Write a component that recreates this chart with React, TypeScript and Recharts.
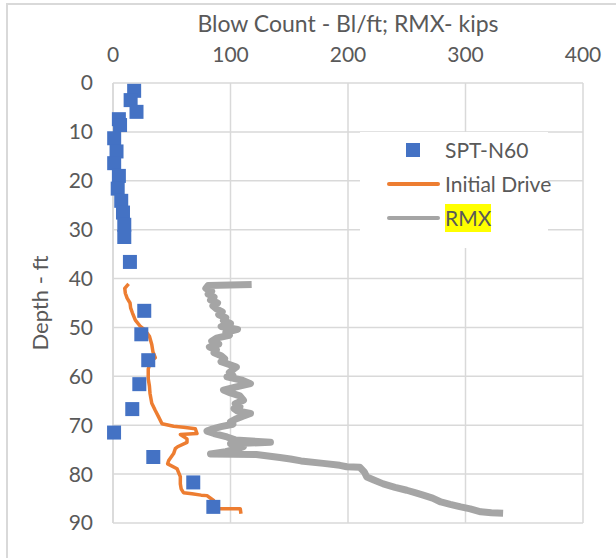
import React from 'react';
import { ScatterChart, Scatter, XAxis, YAxis, CartesianGrid } from 'recharts';

// SPT-N60 blow counts (bl/ft) vs depth (ft)
const sptBlows = [18, 15, 20, 5, 6, 1, 3, 1, 5, 4, 7, 8.5, 9.6, 9.6, 14.4, 26.6, 24.1, 30, 22.4, 16.4, 0.9, 34.3, 68.3, 85.4];
const sptDepth = [1.6, 3.5, 5.9, 7.4, 8.6, 11.3, 14, 16.4, 19, 21.6, 24.1, 26.5, 29, 31.5, 36.6, 46.6, 51.4, 56.7, 61.6, 66.7, 71.5, 76.5, 81.7, 86.7];

// Initial drive blow count (bl/ft) vs depth
const driveBlows = [13.3, 10, 10.5, 12, 14.5, 15, 16.5, 19, 23, 27, 31, 33, 34, 36, 32, 30, 30, 31, 31.5, 33, 36, 38.8, 41.7, 51.6, 60, 70, 71.5, 57.3, 63, 63, 55, 53, 51.6, 47.4, 46.5, 54.5, 57.3, 57.3, 58, 60, 67.2, 75, 80, 85.6, 88.5, 100, 108.3, 108.9];
const driveDepth = [41.1, 42, 43, 44, 45, 46, 47, 48.5, 49.7, 50.5, 51.8, 53.5, 55, 56.2, 57, 58.5, 60.5, 62, 63.5, 65.5, 67, 68.3, 69.7, 70.2, 70.4, 70.7, 71.7, 71.9, 72.8, 73.5, 74.4, 74.8, 75.8, 77.2, 77.9, 78.9, 80.5, 82, 83, 83.8, 84, 84.3, 84.4, 85.4, 87.1, 87.1, 87.1, 88.1];

// RMX (kips) vs depth
const rmxKips = [118, 81, 79, 84, 81, 86, 83, 89, 85, 88, 93, 90, 96, 94, 100, 92, 106, 96, 99, 88, 84, 90, 82, 88, 86, 92, 95, 92, 105, 99, 102, 97, 110, 117, 104, 94, 100, 108, 111, 104, 108, 103, 106, 117, 110, 104, 100, 102, 92, 84, 80, 86, 97, 104, 134, 100, 111, 106, 96, 83, 122, 142, 151, 160, 179, 193, 199, 210, 214, 216, 222, 230, 240, 250, 257, 264, 272, 279, 287, 296, 304, 313, 322, 332];
const rmxDepth = [41.2, 41.4, 42, 42.6, 43.2, 43.8, 44.4, 45, 45.6, 46.2, 46.8, 47.4, 48, 48.6, 49.2, 49.8, 50.4, 51, 51.6, 52.2, 52.8, 53.4, 54, 54.6, 55.2, 55.8, 56.4, 57, 58.1, 59.2, 59.8, 60.1, 60.8, 61.5, 62.2, 62.8, 63.4, 64, 64.9, 65.6, 66.2, 66.6, 67.1, 67.6, 68.2, 68.8, 69.3, 69.8, 70.3, 70.8, 71.2, 71.7, 72.4, 73, 73.5, 73.8, 74.4, 74.8, 75.4, 75.9, 76, 76.6, 76.9, 77.3, 77.8, 78.2, 78.5, 78.6, 79.6, 80.6, 81.2, 82, 82.7, 83.3, 83.8, 84.3, 84.9, 85.7, 86.2, 86.7, 87.1, 87.7, 87.9, 88];

const xTicks = [0, 100, 200, 300, 400];
const yTicks = [0, 10, 20, 30, 40, 50, 60, 70, 80, 90];

const seriesNames = ['SPT-N60', 'Initial Drive', 'RMX'];
const COLORS = ['#4472C4', '#ED7D31', '#A5A5A5'];

const toPoints = (xs: number[], ys: number[]) => xs.map((x, i) => ({ x, y: ys[i] }));

const sptData = toPoints(sptBlows, sptDepth);
const driveData = toPoints(driveBlows, driveDepth);
const rmxData = toPoints(rmxKips, rmxDepth);

const FONT = 'Lato, "Liberation Sans", sans-serif';
const TEXT = '#595959';

const Square = (p: any) => <rect x={p.cx - 7} y={p.cy - 7} width={14} height={14} fill={COLORS[0]} />;
const NoDot = () => <g />;

// legend drawn as an overlay so it doesn't take space from the plot
const LegendBox = () => (
  <div style={{ position: 'absolute', left: 360, top: 132, width: 188, height: 116, background: '#fff', fontFamily: FONT, fontSize: 21, color: TEXT }}>
    {seriesNames.map((name, i) => (
      <div key={name} style={{ position: 'absolute', top: 3 + i * 34, left: 0, height: 30, display: 'flex', alignItems: 'center', whiteSpace: 'nowrap' }}>
        <div style={{ width: 85, height: 30, position: 'relative' }}>
          {i === 0 ? (
            <div style={{ position: 'absolute', left: 46, top: 8, width: 14, height: 14, background: COLORS[0] }} />
          ) : (
            <div style={{ position: 'absolute', left: 27, top: 13, width: 53, height: 4, borderRadius: 2, background: COLORS[i] }} />
          )}
        </div>
        <span style={{ background: i === 2 ? '#FFFF00' : 'transparent', lineHeight: '28px' }}>{name}</span>
      </div>
    ))}
  </div>
);

const App: React.FC = () => {
  return (
    <div style={{ position: 'absolute', left: 0, top: 0, width: 616, height: 558, background: '#fff', overflow: 'hidden' }}>
      <div style={{ position: 'absolute', left: 6, top: 3, width: 620, height: 570, borderLeft: '2px solid #d9d9d9', borderTop: '2px solid #d9d9d9' }} />
      <ScatterChart width={616} height={558} margin={{ top: 53, right: 33, bottom: 35, left: 73 }}>
        <CartesianGrid stroke="#d9d9d9" strokeWidth={1.5} />
        <XAxis
          type="number"
          dataKey="x"
          orientation="top"
          domain={[0, 400]}
          ticks={xTicks}
          height={30}
          axisLine={false}
          tickLine={false}
          tickSize={0}
          tickMargin={21}
          tick={{ fill: TEXT, fontSize: 21, fontFamily: FONT }}
          label={{ value: 'Blow Count - Bl/ft; RMX- kips', position: 'top', offset: 21, fill: TEXT, fontSize: 23, fontFamily: FONT }}
        />
        <YAxis
          type="number"
          dataKey="y"
          reversed
          domain={[0, 90]}
          ticks={yTicks}
          width={40}
          axisLine={{ stroke: '#d9d9d9', strokeWidth: 1.5 }}
          tickLine={false}
          tickSize={0}
          tickMargin={20}
          tick={{ fill: TEXT, fontSize: 21, fontFamily: FONT }}
          label={{
            content: ({ viewBox }: any) => (
              <text
                x={viewBox.x - 34}
                y={viewBox.y + viewBox.height / 2}
                transform={`rotate(-90, ${viewBox.x - 34}, ${viewBox.y + viewBox.height / 2})`}
                textAnchor="middle"
                dominantBaseline="central"
                fill={TEXT}
                fontSize={22}
                fontFamily={FONT}
              >
                Depth - ft
              </text>
            ),
          }}
        />
        <Scatter name={seriesNames[1]} data={driveData} line={{ stroke: COLORS[1], strokeWidth: 3.5, strokeLinejoin: 'round' }} lineJointType="linear" shape={NoDot} isAnimationActive={false} />
        <Scatter name={seriesNames[2]} data={rmxData} line={{ stroke: COLORS[2], strokeWidth: 7, strokeLinejoin: 'round' }} lineJointType="linear" shape={NoDot} isAnimationActive={false} />
        <Scatter name={seriesNames[0]} data={sptData} shape={Square} isAnimationActive={false} />
      </ScatterChart>
      <LegendBox />
    </div>
  );
};

export default App;
